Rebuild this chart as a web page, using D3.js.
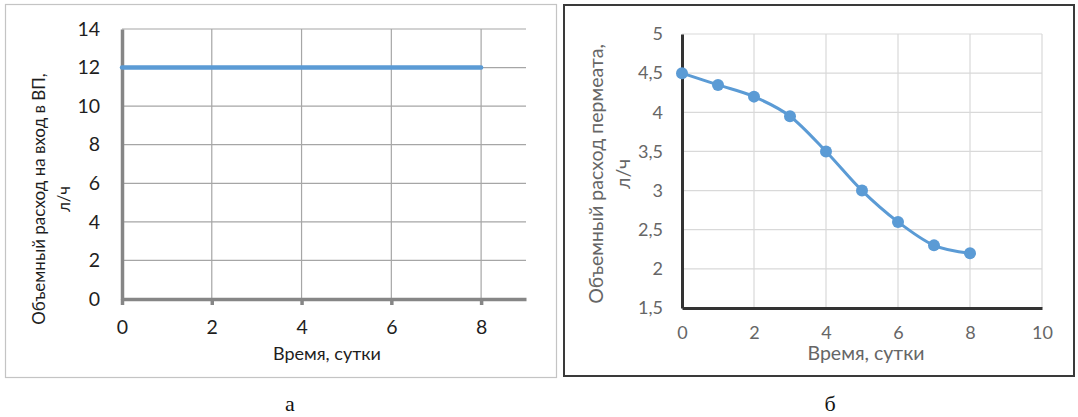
<!DOCTYPE html>
<html><head><meta charset="utf-8">
<script src="https://cdn.jsdelivr.net/npm/d3@7"></script>
<style>body{margin:0;background:#fff}svg{display:block}</style>
</head><body>
<svg id="c" width="1078" height="417"></svg>
<script>
// Chart a
const aX = [0, 8];
const aY = [12, 12];
const aXTicks = [0, 2, 4, 6, 8];
const aYTicks = [0, 2, 4, 6, 8, 10, 12, 14];
// Chart б
const bX = [0, 1, 2, 3, 4, 5, 6, 7, 8];
const bY = [4.5, 4.35, 4.2, 3.95, 3.5, 3.0, 2.6, 2.3, 2.2];
const bXTicks = [0, 2, 4, 6, 8, 10];
const bYTicks = [1.5, 2, 2.5, 3, 3.5, 4, 4.5, 5];
const xTitle = "Время, сутки";
const aYTitle = ["Объемный расход на вход в ВП,", "л/ч"];
const bYTitle = ["Объемный расход пермеата,", "л/ч"];
const captions = ["а", "б"];

const svg = d3.select("#c");
const F = "Lato, 'Open Sans', sans-serif";
const blue = "#5b9bd5";
const fmt = d => String(d).replace(".", ",");

// ---------- Panel a ----------
svg.append("rect").attr("x", 5.5).attr("y", 4.5).attr("width", 551).attr("height", 373)
  .attr("fill", "#fff").attr("stroke", "#c4c4c4").attr("stroke-width", 1.2);
const ax = d3.scaleLinear().domain([0, 9]).range([122, 526]);
const ay = d3.scaleLinear().domain([0, 14]).range([299, 29]);
const ga = svg.append("g");
ga.selectAll(".gy").data(aYTicks.filter(d => d > 0)).join("line")
  .attr("x1", ax(0)).attr("x2", ax(9)).attr("y1", d => ay(d)).attr("y2", d => ay(d))
  .attr("stroke", "#a6a6a6").attr("stroke-width", 1.2);
ga.selectAll(".gx").data(aXTicks.filter(d => d > 0)).join("line")
  .attr("x1", d => ax(d)).attr("x2", d => ax(d)).attr("y1", ay(14)).attr("y2", ay(0))
  .attr("stroke", "#a6a6a6").attr("stroke-width", 1.2);
const axA = ga.append("g").attr("transform", `translate(0,${ay(0)})`)
  .call(d3.axisBottom(ax).tickValues(aXTicks).tickSize(6).tickSizeOuter(0).tickPadding(15));
axA.select(".domain").attr("stroke", "#868686").attr("stroke-width", 3.5);
axA.selectAll(".tick line").attr("stroke", "#868686").attr("stroke-width", 3.5);
axA.selectAll("text").attr("font-family", F).attr("font-size", 19.5).attr("fill", "#1e1e1e");
const ayA = ga.append("g").attr("transform", `translate(${ax(0)},0)`)
  .call(d3.axisLeft(ay).tickValues(aYTicks).tickSize(0).tickPadding(22));
ayA.select(".domain").attr("stroke", "#868686").attr("stroke-width", 3.5);
ayA.selectAll("text").attr("font-family", F).attr("font-size", 19.5).attr("fill", "#1e1e1e");
ga.append("path").datum(aX.map((x, i) => [x, aY[i]]))
  .attr("d", d3.line().x(d => ax(d[0])).y(d => ay(d[1])))
  .attr("fill", "none").attr("stroke", blue).attr("stroke-width", 4.5).attr("stroke-linecap", "round");
ga.append("text").attr("x", 327).attr("y", 360).attr("text-anchor", "middle")
  .attr("font-family", F).attr("font-size", 18).attr("fill", "#1e1e1e").text(xTitle);
aYTitle.forEach((t, i) => {
  ga.append("text").attr("transform", `translate(${39 + i * 25},199) rotate(-90)`)
    .attr("text-anchor", "middle").attr("dy", "0.35em")
    .attr("font-family", F).attr("font-size", 17).attr("fill", "#1e1e1e").text(t);
});
svg.append("text").attr("x", 290).attr("y", 411).attr("text-anchor", "middle")
  .attr("font-family", "'Liberation Serif', serif").attr("font-size", 22).attr("fill", "#111").text(captions[0]);

// ---------- Panel б ----------
svg.append("rect").attr("x", 564).attr("y", 5).attr("width", 510).attr("height", 371)
  .attr("fill", "#fff").attr("stroke", "#3a3a3a").attr("stroke-width", 2);
const bx = d3.scaleLinear().domain([0, 10]).range([682, 1042]);
const by = d3.scaleLinear().domain([1.5, 5]).range([308, 34]);
const gb = svg.append("g");
gb.selectAll(".gy").data(bYTicks.filter(d => d > 1.5)).join("line")
  .attr("x1", bx(0)).attr("x2", bx(10)).attr("y1", d => by(d)).attr("y2", d => by(d))
  .attr("stroke", "#d9d9d9").attr("stroke-width", 1.2);
gb.selectAll(".gx").data(bXTicks.filter(d => d > 0)).join("line")
  .attr("x1", d => bx(d)).attr("x2", d => bx(d)).attr("y1", by(5)).attr("y2", by(1.5))
  .attr("stroke", "#d9d9d9").attr("stroke-width", 1.2);
const axB = gb.append("g").attr("transform", `translate(0,${by(1.5)})`)
  .call(d3.axisBottom(bx).tickValues(bXTicks).tickSize(0).tickPadding(18));
axB.select(".domain").attr("stroke", "#333").attr("stroke-width", 3);
axB.selectAll("text").attr("font-family", F).attr("font-size", 18).attr("fill", "#666");
const ayB = gb.append("g").attr("transform", `translate(${bx(0)},0)`)
  .call(d3.axisLeft(by).tickValues(bYTicks).tickFormat(fmt).tickSize(0).tickPadding(19));
ayB.select(".domain").attr("stroke", "#333").attr("stroke-width", 3);
ayB.selectAll("text").attr("font-family", F).attr("font-size", 18).attr("fill", "#666");
const pts = bX.map((x, i) => [x, bY[i]]);
gb.append("path").datum(pts)
  .attr("d", d3.line().curve(d3.curveCardinal.tension(0)).x(d => bx(d[0])).y(d => by(d[1])))
  .attr("fill", "none").attr("stroke", blue).attr("stroke-width", 3);
gb.selectAll(".pt").data(pts).join("circle")
  .attr("cx", d => bx(d[0])).attr("cy", d => by(d[1])).attr("r", 6).attr("fill", blue);
gb.append("text").attr("x", 866).attr("y", 360).attr("text-anchor", "middle")
  .attr("font-family", F).attr("font-size", 19.5).attr("fill", "#666").text(xTitle);
bYTitle.forEach((t, i) => {
  gb.append("text").attr("transform", `translate(${596 + i * 27},174) rotate(-90)`)
    .attr("text-anchor", "middle").attr("dy", "0.35em")
    .attr("font-family", F).attr("font-size", 19.5).attr("fill", "#666").text(t);
});
svg.append("text").attr("x", 830).attr("y", 411).attr("text-anchor", "middle")
  .attr("font-family", "'Liberation Serif', serif").attr("font-size", 22).attr("fill", "#111").text(captions[1]);
</script>
</body></html>
